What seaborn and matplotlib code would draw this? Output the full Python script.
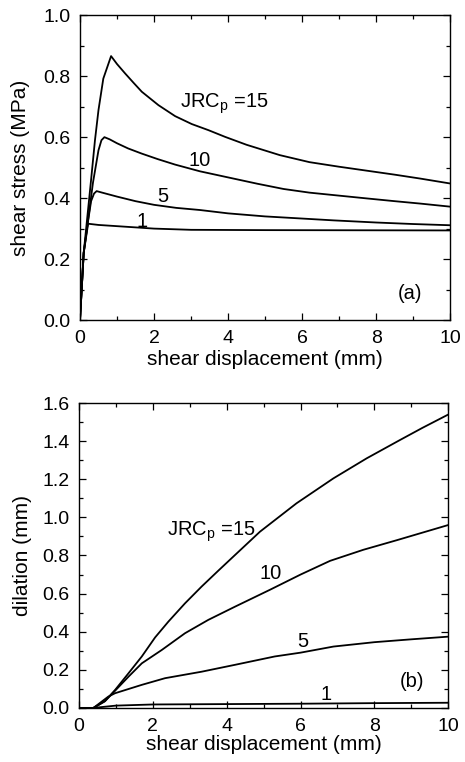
import matplotlib
matplotlib.use("Agg")
import matplotlib.pyplot as plt
from matplotlib.ticker import MultipleLocator, FormatStrFormatter
import seaborn as sns
import pandas as pd

# ---------------- data: (a) shear stress ----------------
jrc_labels = ["15", "10", "5", "1"]

stress_x15 = [0, 0.1, 0.2, 0.3, 0.405, 0.5, 0.63, 0.84, 1.0, 1.22, 1.45, 1.67, 2.12, 2.57, 3.02,
              3.47, 3.92, 4.5, 5.4, 6.2, 7.0, 7.75, 8.5, 9.2, 10.0]
stress_y15 = [0, 0.22, 0.34, 0.46, 0.59, 0.689, 0.792, 0.866, 0.84, 0.809, 0.778, 0.749, 0.705, 0.669, 0.643,
              0.623, 0.601, 0.575, 0.541, 0.518, 0.503, 0.49, 0.477, 0.464, 0.448]

stress_x10 = [0, 0.1, 0.2, 0.35, 0.5, 0.58, 0.66, 0.8, 1.0, 1.3, 1.67, 2.1, 2.57, 3.24, 4.0, 4.8,
              5.5, 6.2, 6.85, 7.75, 8.5, 9.2, 10.0]
stress_y10 = [0, 0.22, 0.31, 0.45, 0.557, 0.59, 0.6, 0.593, 0.58, 0.563, 0.546, 0.528, 0.51, 0.488, 0.468, 0.447,
              0.43, 0.418, 0.41, 0.399, 0.39, 0.382, 0.372]

stress_x5 = [0, 0.1, 0.2, 0.3, 0.38, 0.45, 0.6, 1.0, 1.5, 2.0, 2.6, 3.24, 4.0, 5.0, 6.0, 6.85, 8.0, 9.0, 10.0]
stress_y5 = [0, 0.22, 0.31, 0.39, 0.415, 0.423, 0.418, 0.405, 0.39, 0.378, 0.368, 0.361, 0.35, 0.34, 0.333,
             0.327, 0.32, 0.315, 0.311]

stress_x1 = [0, 0.1, 0.22, 0.5, 1.0, 2.0, 3.0, 5.0, 10.0]
stress_y1 = [0, 0.22, 0.316, 0.312, 0.308, 0.3, 0.296, 0.295, 0.294]

# ---------------- data: (b) dilation ----------------
dil_x15 = [0, 0.39, 0.7, 0.975, 1.34, 1.70, 2.06, 2.42, 2.87, 3.32, 3.77, 4.1, 4.9, 5.89, 6.89,
           7.79, 8.69, 9.3, 10.0]
dil_y15 = [0, 0, 0.035, 0.094, 0.182, 0.27, 0.37, 0.453, 0.549, 0.637, 0.72, 0.78, 0.925, 1.074, 1.205,
           1.31, 1.406, 1.47, 1.54]

dil_x10 = [0, 0.39, 0.7, 0.975, 1.34, 1.70, 2.24, 2.87, 3.5, 4.22, 5.17, 6.0, 6.8, 7.7, 8.6, 10.0]
dil_y10 = [0, 0, 0.035, 0.09, 0.164, 0.234, 0.304, 0.392, 0.462, 0.531, 0.62, 0.70, 0.772, 0.83, 0.88, 0.96]

dil_x5 = [0, 0.39, 0.79, 0.975, 1.7, 2.33, 3.32, 4.22, 5.3, 6.0, 6.89, 8.0, 9.0, 10.0]
dil_y5 = [0, 0, 0.059, 0.077, 0.121, 0.156, 0.19, 0.226, 0.27, 0.29, 0.322, 0.345, 0.36, 0.374]

dil_x1 = [0, 0.39, 1.0, 2.0, 4.0, 6.0, 8.0, 10.0]
dil_y1 = [0, 0, 0.012, 0.018, 0.02, 0.022, 0.025, 0.027]

stress_series = [(stress_x15, stress_y15), (stress_x10, stress_y10),
                 (stress_x5, stress_y5), (stress_x1, stress_y1)]
dil_series = [(dil_x15, dil_y15), (dil_x10, dil_y10),
              (dil_x5, dil_y5), (dil_x1, dil_y1)]

# ---------------- style ----------------
sns.set_style("ticks")
plt.rcParams['font.family'] = ['Liberation Sans', 'DejaVu Sans']
plt.rcParams['mathtext.fontset'] = 'custom'
plt.rcParams['mathtext.rm'] = 'Liberation Sans'
plt.rcParams['mathtext.it'] = 'Liberation Sans'
plt.rcParams['text.color'] = 'black'
plt.rcParams['axes.labelcolor'] = 'black'
plt.rcParams['xtick.color'] = 'black'
plt.rcParams['ytick.color'] = 'black'

FS_TICK = 14
FS_LABEL = 15
FS_ANN = 14.5

fig = plt.figure(figsize=(4.65, 7.62), dpi=100)
ax1 = fig.add_axes([0.172, 0.580, 0.796, 0.400])
ax2 = fig.add_axes([0.170, 0.071, 0.794, 0.400])


def draw(ax, series):
    for lab, (xs, ys) in zip(jrc_labels, series):
        df = pd.DataFrame({"x": xs, "y": ys})
        sns.lineplot(data=df, x="x", y="y", ax=ax, color="black",
                     linewidth=1.3, sort=False, estimator=None)


def style(ax, ymax, xlab_y, ylab_x, ylabel):
    ax.set_xlim(0, 10)
    ax.set_ylim(0, ymax)
    ax.xaxis.set_major_locator(MultipleLocator(2))
    ax.xaxis.set_minor_locator(MultipleLocator(1))
    ax.yaxis.set_major_locator(MultipleLocator(0.2))
    ax.yaxis.set_minor_locator(MultipleLocator(0.1))
    ax.yaxis.set_major_formatter(FormatStrFormatter('%.1f'))
    ax.tick_params(which="both", direction="in", top=True, right=True,
                   labelsize=FS_TICK, width=0.9, colors="black", pad=7)
    ax.tick_params(which="major", length=5)
    ax.tick_params(which="minor", length=3)
    for s in ax.spines.values():
        s.set_visible(True)
        s.set_linewidth(1.0)
        s.set_color("black")
    ax.set_xlabel("shear displacement (mm)", fontsize=FS_LABEL, va="center", color="black")
    ax.xaxis.set_label_coords(0.5, xlab_y)
    ax.set_ylabel(ylabel, fontsize=FS_LABEL, va="center", color="black")
    ax.yaxis.set_label_coords(ylab_x, 0.5)


draw(ax1, stress_series)
style(ax1, 1.0, -0.131, -0.162, "shear stress (MPa)")
ax1.text(2.7, 0.711, r"JRC$_\mathrm{p}$ =15", fontsize=FS_ANN, va="center", ha="left", color="black")
ax1.text(3.24, 0.525, "10", fontsize=FS_ANN, va="center", ha="center", color="black")
ax1.text(2.25, 0.405, "5", fontsize=FS_ANN, va="center", ha="center", color="black")
ax1.text(1.69, 0.322, "1", fontsize=FS_ANN, va="center", ha="center", color="black")
ax1.text(8.92, 0.088, "(a)", fontsize=FS_ANN, va="center", ha="center", color="black")

draw(ax2, dil_series)
style(ax2, 1.6, -0.121, -0.154, "dilation (mm)")
ax2.text(2.37, 0.925, r"JRC$_\mathrm{p}$ =15", fontsize=FS_ANN, va="center", ha="left", color="black")
ax2.text(5.19, 0.707, "10", fontsize=FS_ANN, va="center", ha="center", color="black")
ax2.text(6.07, 0.348, "5", fontsize=FS_ANN, va="center", ha="center", color="black")
ax2.text(6.69, 0.07, "1", fontsize=FS_ANN, va="center", ha="center", color="black")
ax2.text(9.03, 0.138, "(b)", fontsize=FS_ANN, va="center", ha="center", color="black")

fig.savefig("out.png", dpi=100)
